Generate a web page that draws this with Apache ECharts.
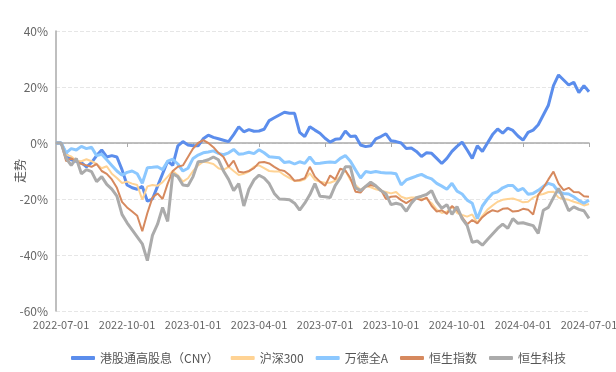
<!DOCTYPE html>
<html>
<head>
<meta charset="utf-8">
<script src="https://cdn.jsdelivr.net/npm/echarts@6/dist/echarts.min.js"></script>
<style>
html,body{margin:0;padding:0;background:#fff;}
#chart{width:616px;height:372px;}
</style>
</head>
<body>
<div id="chart"></div>
<script>
// Tick labels (every 13 weeks, starting at the 2nd category)
const xLabels = ['2022-07-01','2022-10-01','2023-01-01','2023-04-01','2023-07-01','2023-10-01','2024-10-01','2024-04-01','2024-07-01'];
const yTicks = [-60,-40,-20,0,20,40];
const seriesNames = ['港股通高股息（CNY）','沪深300','万德全A','恒生指数','恒生科技'];

// Weekly cumulative returns (%)
const hkHighDiv = [0,0,-4,-6,-6.5,-7,-8.5,-7,-4.5,-2.5,-5,-4.5,-5,-9.5,-15,-16,-16.5,-15.5,-20.8,-20,-15.5,-11,-6.5,-8,-1,0.5,-0.7,-1,-1,1.5,2.8,2,1.5,1,0.5,3,5.8,4,4.8,4.2,4.3,4.9,8,9,10,11,10.6,10.6,3.8,2.3,5.8,4.6,3.5,1.7,0.3,1.3,1.5,4.3,2.3,2.5,-0.7,-1.3,-1,1.5,2.3,3.3,0.8,0.5,0,-2,-1.8,-3,-4.8,-3.5,-3.7,-5.5,-7.3,-5.5,-3,-1.2,0.3,-2.5,-5.5,-1,-3,0,3,5,3.5,5.3,4.5,2.5,1,3.8,4.6,6.5,10,13.5,20.5,24.3,22.5,20.7,21.7,18,20.5,18.3];
const csi300 = [0,0,-4.2,-4.8,-6.3,-6.5,-5.8,-6.5,-7.5,-9,-8.3,-11,-12.5,-14.3,-13.8,-14.5,-15,-20.2,-15.5,-15,-15.3,-14,-12,-10,-11.5,-13.8,-12.6,-10,-8,-6.7,-7,-7.5,-9,-9.6,-8.5,-10,-11.4,-11,-10.2,-8.5,-8,-9,-10,-10.2,-10.2,-11.5,-12.5,-13.5,-13.6,-13,-10.8,-13.2,-13.8,-14.2,-14.2,-13.5,-12,-9.8,-13.2,-15,-16.8,-15.4,-15.8,-16.5,-17,-17.5,-18,-17.5,-19.2,-19.8,-19.5,-19.5,-19.8,-20,-21.5,-23.8,-25,-24.5,-22.7,-25,-25.7,-26.3,-25.5,-28.5,-26,-23.8,-22.3,-21,-20.3,-20,-19.8,-20.4,-21.2,-21,-19.5,-18.6,-18.2,-17.5,-17.4,-19.5,-20,-20.3,-21,-21.5,-22.3,-21.8];
const windA = [0,0,-3.5,-2,-2.5,-1.2,-2,-1.5,-4.5,-4,-6,-8,-10,-11.5,-10.5,-10,-11,-14.4,-8.8,-8.7,-8.5,-9.5,-6.5,-5.8,-7.5,-10,-9,-5.5,-4.3,-3.5,-3.2,-2.8,-3.7,-4.2,-3.5,-2.3,-4,-3.8,-3.3,-3.8,-2.4,-3.5,-4.9,-5.1,-5.3,-7,-6.7,-7.5,-6.7,-7.3,-5,-7.3,-7.2,-7,-6.8,-7,-5.5,-4.5,-6.5,-9.6,-12.5,-10.2,-10.5,-10.2,-10.5,-10.7,-10.7,-11,-15,-13.2,-12.5,-11.8,-11.2,-12.2,-12.8,-14.4,-15.4,-16.5,-14.4,-17.2,-18.2,-20.4,-21.5,-27,-22.5,-20,-18,-17.4,-16,-15.2,-15.2,-17,-16.2,-18.3,-18,-16.9,-15.5,-14.4,-15,-17.5,-18,-18.2,-19.2,-20.5,-21.5,-20.4];
const hsi = [0,0,-6.5,-5.5,-6.5,-7.5,-8,-8.5,-7.5,-10,-11,-13,-16,-21,-23,-24.5,-26,-31.5,-25,-19.5,-18,-20,-14.5,-10,-8.5,-8,-5,-2,0,1,0,-1.5,-3.5,-5,-8.5,-6.3,-10.3,-10.5,-10,-9,-7,-6.8,-7.3,-8.5,-9.6,-10,-11.4,-13.5,-13.2,-12.6,-8.5,-12,-13.8,-15.3,-11.6,-13,-9.2,-9.8,-12.6,-17.4,-17.7,-15.6,-15,-15.5,-16.7,-20,-19.2,-19,-20.4,-21.5,-20.3,-19.8,-20.5,-19.5,-22.5,-24.5,-24,-25.3,-22.5,-24,-26.5,-29,-27.5,-28.7,-26.5,-25,-24,-24.5,-23.5,-23.3,-24.5,-24.3,-23.5,-23.8,-25.5,-18.5,-16,-13,-10.2,-14.5,-16.8,-16,-17.5,-17.6,-19,-19.2];
const hstech = [0,0,-5.5,-8,-5.5,-11,-9.5,-10.2,-13.8,-12,-14.8,-16.5,-19,-25.5,-28.5,-31,-33.5,-36,-42,-33,-29,-23,-28,-11,-12,-15,-15.3,-12,-6.7,-6.5,-6,-5,-6,-10,-13,-17,-14.5,-22.5,-16.5,-13.2,-11.5,-12.5,-14.5,-18,-20,-20.1,-20.3,-21.5,-24,-21.5,-18.5,-14.5,-19,-19.2,-19.5,-15.2,-12.5,-8.5,-8.5,-16,-17,-15.5,-14,-15.3,-17,-18.2,-22,-21.5,-22,-24.4,-21.5,-19.5,-19,-18.4,-17,-21,-23.3,-22,-25.5,-22.7,-27,-29.5,-35.5,-35,-36.5,-34.5,-32.5,-30.5,-29,-30.5,-27,-28.7,-28.5,-29,-29.5,-32.3,-24,-23,-19.5,-16.2,-20,-24.2,-22.8,-23.7,-24.2,-26.9];

const categories = hkHighDiv.map((_, k) => k);
const isLabelIdx = idx => (idx - 1) % 13 === 0 && idx >= 1;

const colors = ['#5B8DEC','#FFD394','#8CC8FF','#D6895E','#ABABAB'];
const widths = [3, 2, 3, 2, 3];
const dataSets = [hkHighDiv, csi300, windA, hsi, hstech];

const chart = echarts.init(document.getElementById('chart'));
chart.setOption({
  animation: false,
  color: colors,
  textStyle: { fontFamily: 'Noto Sans CJK SC, Noto Sans, sans-serif' },
  grid: { left: 56, right: 27, top: 31, bottom: 61, containLabel: false, outerBoundsMode: 'none' },
  legend: {
    bottom: 3,
    left: 66,
    icon: 'roundRect',
    itemWidth: 24,
    itemHeight: 4,
    itemGap: 12,
    textStyle: { color: '#555', fontSize: 12 },
    data: seriesNames
  },
  xAxis: {
    type: 'category',
    data: categories,
    boundaryGap: false,
    axisLine: { lineStyle: { color: '#aaa', width: 1.5 } },
    axisTick: { interval: (idx) => isLabelIdx(idx), length: 4, lineStyle: { color: '#aaa' } },
    axisLabel: {
      interval: (idx) => isLabelIdx(idx),
      formatter: (v, idx) => isLabelIdx(idx) ? xLabels[(idx - 1) / 13] : '',
      color: '#666', fontSize: 11, margin: 8
    },
    splitLine: { show: false }
  },
  yAxis: {
    type: 'value',
    min: yTicks[0], max: yTicks[yTicks.length - 1], interval: 20,
    name: '走势', nameLocation: 'middle', nameGap: 30, nameMoveOverlap: false,
    nameTextStyle: { color: '#555', fontSize: 12 },
    axisLine: { show: true, lineStyle: { color: '#aaa', width: 1.5 } },
    axisTick: { show: false },
    axisLabel: { formatter: '{value}%', color: '#666', fontSize: 12 },
    splitLine: { lineStyle: { type: 'dashed', color: '#e6e6e6' } }
  },
  series: dataSets.map((d, k) => ({
    name: seriesNames[k],
    type: 'line',
    data: d,
    showSymbol: false,
    symbol: 'none',
    lineStyle: { width: widths[k], color: colors[k] },
    itemStyle: { color: colors[k] }
  }))
});
</script>
</body>
</html>
